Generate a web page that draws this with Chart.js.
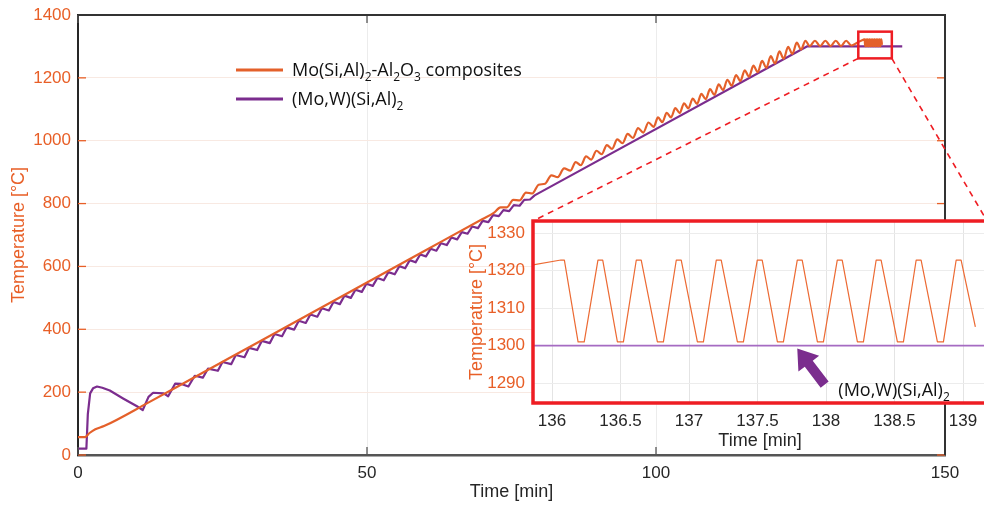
<!DOCTYPE html>
<html>
<head>
<meta charset="utf-8">
<script src="https://cdn.jsdelivr.net/npm/chart.js@4.4.0/dist/chart.umd.min.js"></script>
<style>
  html, body { margin: 0; padding: 0; background: #fff; overflow: hidden; }
  #wrap { position: relative; width: 984px; height: 506px; overflow: hidden; }
  #main { position: absolute; left: 0; top: 0; }
  #zoom { position: absolute; left: 458px; top: 212px; }
</style>
</head>
<body>
<div id="wrap">
  <canvas id="main" width="984" height="506"></canvas>
  <canvas id="zoom" width="544" height="240"></canvas>
</div>
<script>
// Mo(Si,Al)2-Al2O3 composites: start + linear ramp
const compRampTime = [0, 1.2, 2.0, 3.0, 4.5, 12, 20, 30, 40, 50, 60, 70, 72]
const compRampTemp = [57, 57, 70, 82, 92, 165, 246, 347, 448, 549, 650, 751, 771]
// ramp with growing oscillation
const compCycleTime = [73.1, 74.2, 75.3, 76.4, 77.5, 78.6, 79.7, 80.8, 81.9, 83.0, 84.1, 85.2,
  86.1, 87.0, 87.9, 88.8, 89.7, 90.6, 91.5, 92.4, 93.3, 94.2, 95.1, 96.0, 96.9, 97.8, 98.7, 99.6,
  100.35, 101.1, 101.85, 102.6, 103.35, 104.1, 104.85, 105.6, 106.35, 107.1, 107.85, 108.6, 109.35, 110.1, 110.85, 111.6, 112.35, 113.1,
  113.85, 114.6, 115.35, 116.1, 116.85, 117.6, 118.35, 119.1, 119.85, 120.6, 121.35, 122.1, 122.85, 123.6, 124.35, 125.1, 125.85, 126.6]
const compCycleTemp = [788, 788, 812, 810, 835, 832, 860, 863, 890, 884, 912, 905,
  932, 922, 950, 940, 968, 957, 986, 974, 1004, 992, 1022, 1009, 1040, 1026, 1058, 1044,
  1074, 1059, 1089, 1074, 1104, 1088, 1119, 1103, 1134, 1117, 1149, 1132, 1164, 1146, 1179, 1161, 1194, 1175,
  1209, 1190, 1224, 1204, 1239, 1218, 1254, 1232, 1269, 1246, 1284, 1261, 1299, 1276, 1312, 1290, 1318, 1301]
// holding around 1300-1320
const compHoldTime = [127.5, 128.4, 129.3, 130.2, 131.1, 132.0, 132.9, 133.8, 134.8]
const compHoldTemp = [1318, 1301, 1318, 1301, 1318, 1301, 1318, 1303, 1312]
// detail shown in the inset (136-139 min)
const detailTime = [135.86, 136.065, 136.09, 136.19, 136.235, 136.335, 136.37, 136.477, 136.521,
  136.615, 136.651, 136.769, 136.813, 136.907, 136.943, 137.061, 137.105, 137.199, 137.235,
  137.353, 137.397, 137.498, 137.534, 137.645, 137.689, 137.79, 137.826, 137.937, 137.981,
  138.082, 138.118, 138.229, 138.273, 138.366, 138.402, 138.521, 138.565, 138.658, 138.694,
  138.813, 138.857, 138.95, 138.986, 139.09]
const detailTemp = [1321.5, 1322.8, 1322.8, 1301, 1301, 1322.8, 1322.8, 1301, 1301,
  1322.8, 1322.8, 1301, 1301, 1322.8, 1322.8, 1301, 1301, 1322.8, 1322.8,
  1301, 1301, 1322.8, 1322.8, 1301, 1301, 1322.8, 1322.8, 1301, 1301,
  1322.8, 1322.8, 1301, 1301, 1322.8, 1322.8, 1301, 1301, 1322.8, 1322.8,
  1301, 1301, 1322.8, 1322.8, 1305]

// (Mo,W)(Si,Al)2
const mwTime = [0, 1.45, 1.7, 2.1, 2.6, 3.3, 4.2, 5.5, 7.8, 10.2, 11.2,
  12.2, 13.0, 14.8, 15.6, 16.8, 17.9, 19.1,
  20.2, 21.6, 22.5, 24.2, 25.0, 26.5, 27.3, 28.8, 29.6, 31.0, 31.8, 33.2, 34.0, 35.3, 36.1, 37.4, 38.2, 39.4,
  40.2, 41.4, 42.2, 43.4, 44.2, 45.3, 46.1, 47.2, 48.0, 49.1, 49.9, 51.0, 51.8, 52.9, 53.7, 54.8, 55.6, 56.6,
  57.4, 58.4, 59.2, 60.2, 61.0, 62.0, 62.8, 63.8, 64.6, 65.6, 66.4, 67.4, 68.2, 69.2, 70.0, 71.0, 71.8, 72.8,
  73.6, 74.6, 75.4, 76.4, 77.2, 78.2, 79.0, 126.1, 142.6]
const mwTemp = [20, 20, 130, 196, 212, 218, 214, 205, 180, 155, 143,
  185, 198, 196, 187, 227, 226, 218,
  252, 246, 275, 268, 296, 289, 318, 311, 341, 334, 363, 356, 385, 378, 406, 399, 427, 420,
  447, 440, 467, 460, 487, 480, 507, 500, 526, 519, 545, 538, 563, 556, 582, 575, 601, 594,
  620, 613, 638, 632, 656, 650, 674, 668, 692, 686, 709, 704, 727, 722, 745, 741, 763, 760,
  779, 776, 795, 793, 812, 813, 826, 1300, 1300]

const xTicksMain = [0, 50, 100, 150]
const yTicksMain = [0, 200, 400, 600, 800, 1000, 1200, 1400]
const zoomBoxTime = [135.0, 140.8]
const zoomBoxTemp = [1262, 1347]
const arrowTail = [137.99, 1289.6]
const arrowTip = [137.79, 1299.2]
const arrowLabelAt = [138.09, 1286.6]

const orange = '#E85F27'
const orangeLine = '#E4602A'
const purple = '#7B2D8E'
const red = '#EE1D23'
const dark = '#262626'
const tickFont = "'Liberation Sans', Arial, sans-serif"
const legendFont = "'Open Sans', sans-serif"

const toXY = (xs, ys) => xs.map((x, i) => ({ x, y: ys[i] }))
const compTime = [...compRampTime, ...compCycleTime, ...compHoldTime, ...detailTime]
const compTemp = [...compRampTemp, ...compCycleTemp, ...compHoldTemp, ...detailTemp]

const composite = [['Mo(Si,Al)', 0], ['2', 1], ['-Al', 0], ['2', 1], ['O', 0], ['3', 1], [' composites', 0]]
const mwName = [['(Mo,W)(Si,Al)', 0], ['2', 1]]

function drawRich(ctx, parts, x, y, size) {
  ctx.save()
  ctx.fillStyle = '#111'
  ctx.textBaseline = 'alphabetic'
  ctx.textAlign = 'left'
  let cx = x
  parts.forEach(([txt, sub]) => {
    ctx.font = (sub ? Math.round(size * 0.68) : size) + 'px ' + legendFont
    ctx.fillText(txt, cx, y + (sub ? size * 0.28 : 0))
    cx += ctx.measureText(txt).width
  })
  ctx.restore()
}

function seg(ctx, x1, y1, x2, y2) {
  ctx.beginPath(); ctx.moveTo(x1, y1); ctx.lineTo(x2, y2); ctx.stroke()
}

// fixed axis sizes so the plot areas land where the figure has them
const fixWidth = w => s => { s.width = w; s.paddingTop = 0; s.paddingBottom = 0 }
const fixHeight = h => s => { s.height = h; s.paddingLeft = 0; s.paddingRight = 0 }

const zoomCanvas = document.getElementById('zoom')
const mainCanvas = document.getElementById('main')

const insetDeco = {
  id: 'insetDeco',
  beforeDraw(chart) {
    const { ctx, chartArea: a } = chart
    ctx.save()
    ctx.fillStyle = '#fff'
    ctx.fillRect(a.left, a.top, a.right - a.left, a.bottom - a.top)
    ctx.restore()
  },
  afterDraw(chart) {
    const { ctx, chartArea: a, scales: { x, y } } = chart
    ctx.save()
    ctx.strokeStyle = red
    ctx.lineWidth = 3.5
    ctx.strokeRect(a.left, a.top, a.right - a.left, a.bottom - a.top)

    // arrow pointing at the (Mo,W)(Si,Al)2 line
    const x1 = x.getPixelForValue(arrowTail[0]), y1 = y.getPixelForValue(arrowTail[1])
    const x2 = x.getPixelForValue(arrowTip[0]), y2 = y.getPixelForValue(arrowTip[1])
    const ang = Math.atan2(y2 - y1, x2 - x1)
    const len = Math.hypot(x2 - x1, y2 - y1)
    ctx.translate(x1, y1)
    ctx.rotate(ang)
    ctx.fillStyle = purple
    ctx.beginPath()
    ctx.moveTo(0, -5)
    ctx.lineTo(len - 19, -5)
    ctx.lineTo(len - 19, -13)
    ctx.lineTo(len, 0)
    ctx.lineTo(len - 19, 13)
    ctx.lineTo(len - 19, 5)
    ctx.lineTo(0, 5)
    ctx.closePath()
    ctx.fill()
    ctx.restore()

    drawRich(ctx, mwName, x.getPixelForValue(arrowLabelAt[0]), y.getPixelForValue(arrowLabelAt[1]), 18)
  }
}

const insetChart = new Chart(zoomCanvas, {
  type: 'line',
  data: {
    datasets: [
      { data: toXY([...compHoldTime, ...detailTime], [...compHoldTemp, ...detailTemp]), borderColor: '#EC6A33', borderWidth: 1.2, borderJoinStyle: 'round' },
      { data: toXY(mwTime, mwTemp), borderColor: '#A56BC2', borderWidth: 1.6 }
    ]
  },
  options: {
    responsive: false,
    animation: false,
    layout: { padding: { top: 9, right: 15, left: 0, bottom: 0 } },
    plugins: { legend: { display: false }, tooltip: { enabled: false } },
    elements: { point: { radius: 0 }, line: { tension: 0 } },
    scales: {
      x: {
        type: 'linear', min: 135.861, max: 139.175,
        afterFit: fixHeight(49),
        ticks: { stepSize: 0.5, includeBounds: false, color: dark, padding: 8, maxRotation: 0,
          font: { family: tickFont, size: 17 }, callback: v => String(v) },
        grid: { color: '#e4e4e4', drawTicks: false },
        border: { display: false },
        title: { display: true, text: 'Time [min]', color: dark, font: { family: tickFont, size: 18 }, padding: { top: 0, bottom: 0 } }
      },
      y: {
        min: 1284.7, max: 1333.2,
        afterFit: fixWidth(75),
        ticks: { stepSize: 10, includeBounds: false, color: orange, padding: 8,
          font: { family: tickFont, size: 17 }, callback: v => String(v) },
        grid: { color: '#ececec', drawTicks: false },
        border: { display: false },
        title: { display: true, text: 'Temperature [°C]', color: orange, font: { family: tickFont, size: 18 }, padding: { top: 8, bottom: 0 } }
      }
    }
  },
  plugins: [insetDeco]
})

const mainDeco = {
  id: 'mainDeco',
  afterDraw(chart) {
    const { ctx, chartArea: a, scales: { x, y } } = chart
    ctx.save()
    // inner ticks on all four sides
    ctx.lineWidth = 1.3
    ctx.strokeStyle = orange
    yTicksMain.forEach(v => {
      const py = y.getPixelForValue(v)
      seg(ctx, a.left, py, a.left + 8, py)
      seg(ctx, a.right, py, a.right - 8, py)
    })
    ctx.strokeStyle = '#555'
    xTicksMain.forEach(v => {
      const px = x.getPixelForValue(v)
      seg(ctx, px, a.bottom, px, a.bottom - 8)
      seg(ctx, px, a.top, px, a.top + 8)
    })
    // top and right frame
    ctx.strokeStyle = '#333'
    ctx.lineWidth = 2
    ctx.beginPath()
    ctx.moveTo(a.left, a.top); ctx.lineTo(a.right, a.top); ctx.lineTo(a.right, a.bottom)
    ctx.stroke()

    // zoom box and connectors to the inset
    const bx1 = x.getPixelForValue(zoomBoxTime[0]), bx2 = x.getPixelForValue(zoomBoxTime[1])
    const by1 = y.getPixelForValue(zoomBoxTemp[1]), by2 = y.getPixelForValue(zoomBoxTemp[0])
    ctx.strokeStyle = red
    ctx.lineWidth = 2.5
    ctx.strokeRect(bx1, by1, bx2 - bx1, by2 - by1)
    const ia = insetChart.chartArea
    const ox = zoomCanvas.offsetLeft, oy = zoomCanvas.offsetTop
    ctx.lineWidth = 1.6
    ctx.setLineDash([6, 5])
    seg(ctx, bx1, by2, ox + ia.left, oy + ia.top)
    seg(ctx, bx2, by2, ox + ia.right, oy + ia.top)
    ctx.setLineDash([])

    // legend
    ctx.lineWidth = 3
    ctx.strokeStyle = orangeLine
    seg(ctx, 236, 70, 283, 70)
    ctx.strokeStyle = purple
    seg(ctx, 236, 99, 283, 99)
    ctx.restore()
    drawRich(ctx, composite, 292, 76, 18)
    drawRich(ctx, mwName, 292, 105, 18)
  }
}

new Chart(mainCanvas, {
  type: 'line',
  data: {
    datasets: [
      { data: toXY(compTime, compTemp), borderColor: orangeLine, borderWidth: 2.2,
        borderJoinStyle: 'round', cubicInterpolationMode: 'monotone' },
      { data: toXY(mwTime, mwTemp), borderColor: purple, borderWidth: 2.2, borderJoinStyle: 'round' }
    ]
  },
  options: {
    responsive: false,
    animation: false,
    layout: { padding: { top: 15, right: 39, left: 0, bottom: 0 } },
    plugins: { legend: { display: false }, tooltip: { enabled: false } },
    elements: { point: { radius: 0 }, line: { tension: 0 } },
    scales: {
      x: {
        type: 'linear', min: 0, max: 150,
        afterFit: fixHeight(51),
        afterBuildTicks: s => { s.ticks = xTicksMain.map(v => ({ value: v })) },
        ticks: { color: dark, padding: 8, maxRotation: 0, font: { family: tickFont, size: 17 }, callback: v => String(v) },
        grid: { color: '#ececec', drawTicks: false },
        border: { color: '#555', width: 2.5 },
        title: { display: true, text: 'Time [min]', color: dark, font: { family: tickFont, size: 18 }, padding: { top: 0, bottom: 3 } }
      },
      y: {
        min: 0, max: 1400,
        afterFit: fixWidth(78),
        afterBuildTicks: s => { s.ticks = yTicksMain.map(v => ({ value: v })) },
        ticks: { color: orange, padding: 7, font: { family: tickFont, size: 17 }, callback: v => String(v) },
        grid: { color: '#f8e9e2', drawTicks: false },
        border: { color: '#262626', width: 2 },
        title: { display: true, text: 'Temperature [°C]', color: orange, font: { family: tickFont, size: 18 }, padding: { top: 8, bottom: 0 } }
      }
    }
  },
  plugins: [mainDeco]
})
</script>
</body>
</html>
